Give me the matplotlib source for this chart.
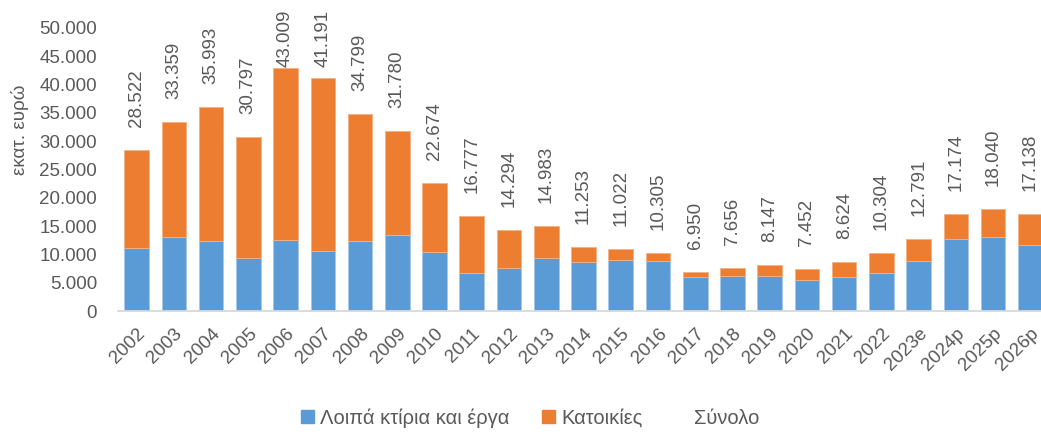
import matplotlib
matplotlib.use("Agg")
import matplotlib.pyplot as plt
from matplotlib.patches import Patch
from matplotlib.lines import Line2D

plt.rcParams['font.family'] = ['Liberation Sans', 'DejaVu Sans']

years = ["2002", "2003", "2004", "2005", "2006", "2007", "2008", "2009", "2010",
         "2011", "2012", "2013", "2014", "2015", "2016", "2017", "2018", "2019",
         "2020", "2021", "2022", "2023e", "2024p", "2025p", "2026p"]
other_buildings = [11200, 13000, 12400, 9400, 12600, 10650, 12400, 13400, 10400,
                   6770, 7650, 9420, 8700, 9060, 8830, 5950, 6240, 6240,
                   5420, 6060, 6770, 8890, 12780, 13130, 11710]
housing = [17322, 20359, 23593, 21397, 30409, 30541, 22399, 18380, 12274,
           10007, 6644, 5563, 2553, 1962, 1475, 1000, 1416, 1907,
           2032, 2564, 3534, 3901, 4394, 4910, 5428]
totals = [28522, 33359, 35993, 30797, 43009, 41191, 34799, 31780, 22674,
          16777, 14294, 14983, 11253, 11022, 10305, 6950, 7656, 8147,
          7452, 8624, 10304, 12791, 17174, 18040, 17138]
yticks = [0, 5000, 10000, 15000, 20000, 25000, 30000, 35000, 40000, 45000, 50000]

BLUE = "#5B9BD5"
ORANGE = "#ED7D31"
TXT = "#595959"

W, H = 1041, 434
fig = plt.figure(figsize=(W / 100, H / 100), dpi=100)
left, right, bottom, top = 118, 1049, 311, 28
ax = fig.add_axes([left / W, 1 - bottom / H, (right - left) / W, (bottom - top) / H])

x = list(range(len(years)))
ax.bar(x, other_buildings, width=0.66, color=BLUE, edgecolor="#A9C8EA", linewidth=0.6)
ax.bar(x, housing, width=0.66, bottom=other_buildings, color=ORANGE,
       edgecolor="#F4B183", linewidth=0.6)

ax.set_xlim(-0.5, len(years) - 0.5)
ax.set_ylim(0, 50000)

# total labels: placed above each bar, kept inside the figure (like Excel does)
gap_px = 23
label_len_px = 59
top_limit_px = H - 8  # display coords (origin bottom-left)
for xi, t in zip(x, totals):
    _, ypix = ax.transData.transform((xi, t))
    base = ypix + gap_px
    if base + label_len_px > top_limit_px:
        base = top_limit_px - label_len_px
    _, ydata = ax.transData.inverted().transform((0, base))
    ax.text(xi, ydata, f"{t:,}".replace(",", "."), rotation=90, ha="center",
            va="bottom", fontsize=13.5, color=TXT, clip_on=False)

ax.set_yticks(yticks)
ax.set_yticklabels([f"{v:,}".replace(",", ".") for v in yticks])
ax.set_xticks(x)
ax.set_xticklabels(years, rotation=45, ha="right", rotation_mode="anchor")
ax.tick_params(axis="both", length=0, labelsize=13.5, labelcolor=TXT)
ax.tick_params(axis="y", pad=15)
ax.tick_params(axis="x", pad=10)
for s in ["top", "right", "left"]:
    ax.spines[s].set_visible(False)
ax.spines["bottom"].set_color("#D9D9D9")
ax.spines["bottom"].set_linewidth(1.3)

fig.text(20 / W, 1 - 130 / H, "εκατ. ευρώ", rotation=90, ha="center", va="center",
         fontsize=13.5, color=TXT)

handles = [Patch(facecolor=BLUE, edgecolor=BLUE),
           Patch(facecolor=ORANGE, edgecolor=ORANGE),
           Line2D([], [], linestyle="none")]
labels = ["Λοιπά κτίρια και έργα", "Κατοικίες", "Σύνολο"]
fig.legend(handles, labels, loc="center", bbox_to_anchor=(530 / W, 1 - 418 / H),
           ncol=3, frameon=False, fontsize=14.5, labelcolor=TXT,
           handlelength=0.65, handleheight=0.65, handletextpad=0.3, columnspacing=1.6)

fig.savefig("out.png", dpi=100)
